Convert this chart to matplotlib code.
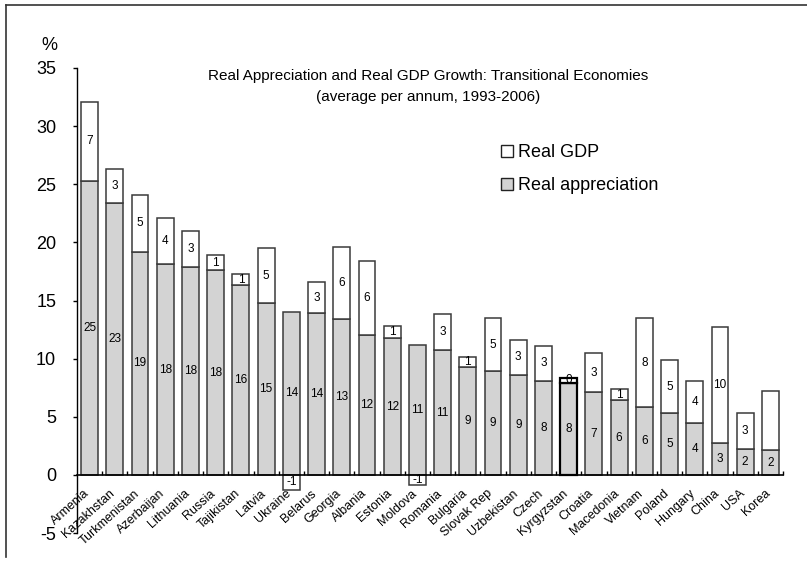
import numpy as np
import matplotlib
matplotlib.use("Agg")
import matplotlib.pyplot as plt
import matplotlib.transforms as mtransforms
from matplotlib.patches import Patch
from matplotlib.lines import Line2D

plt.rcParams['font.family'] = ['Liberation Sans', 'DejaVu Sans']
plt.rcParams['axes.unicode_minus'] = False

countries = ["Armenia", "Kazakhstan", "Turkmenistan", "Azerbaijan", "Lithuania",
             "Russia", "Tajikistan", "Latvia", "Ukraine", "Belarus", "Georgia",
             "Albania", "Estonia", "Moldova", "Romania", "Bulgaria", "Slovak Rep",
             "Uzbekistan", "Czech", "Kyrgyzstan", "Croatia", "Macedonia", "Vietnam",
             "Poland", "Hungary", "China", "USA", "Korea"]

# real appreciation and real GDP growth, % per annum
real_appr = [25.3, 23.4, 19.2, 18.1, 17.9, 17.6, 16.3, 14.8, 14.0, 13.9, 13.4,
             12.0, 11.75, 11.2, 10.7, 9.3, 8.9, 8.6, 8.1, 7.9, 7.1, 6.4, 5.8,
             5.3, 4.45, 2.7, 2.2, 2.1]
real_gdp = [6.8, 2.9, 4.9, 4.0, 3.1, 1.3, 1.0, 4.7, -1.3, 2.7, 6.2,
            6.4, 1.05, -0.9, 3.1, 0.8, 4.6, 3.0, 3.0, 0.45, 3.4, 1.0, 7.7,
            4.6, 3.6, 10.05, 3.1, 5.15]
appr_labels = ["25", "23", "19", "18", "18", "18", "16", "15", "14", "14", "13",
               "12", "12", "11", "11", "9", "9", "9", "8", "8", "7", "6", "6",
               "5", "4", "3", "2", "2"]
gdp_labels = ["7", "3", "5", "4", "3", "1", "1", "5", "-1", "3", "6",
              "6", "1", "-1", "3", "1", "5", "3", "3", "0", "3", "1", "8",
              "5", "4", "10", "3", ""]

W, H = 807, 564
fig = plt.figure(figsize=(W / 100, H / 100), dpi=100)
ax = fig.add_axes([77 / W, 1 - 533 / H, (783 - 77) / W, (533 - 68) / H])

x = np.arange(len(countries))
appr = np.array(real_appr)
gdp = np.array(real_gdp)
gdp_bottom = np.where(gdp >= 0, appr, 0)

edge = ['black' if c == "Kyrgyzstan" else '#3a3a3a' for c in countries]
lw = [1.6 if c == "Kyrgyzstan" else 1.1 for c in countries]

ax.bar(x, appr, width=0.67, color='#d3d3d3', edgecolor=edge, linewidth=lw, zorder=2)
ax.bar(x, gdp, width=0.67, bottom=gdp_bottom, color='white', edgecolor=edge,
       linewidth=lw, zorder=2)

for i in range(len(x)):
    ax.text(x[i], appr[i] / 2, appr_labels[i], ha='center', va='center',
            fontsize=8.5, zorder=3)
    if gdp_labels[i]:
        ax.text(x[i], gdp_bottom[i] + gdp[i] / 2, gdp_labels[i], ha='center',
                va='center', fontsize=8.5, zorder=3)

ax.set_xlim(-0.5, len(x) - 0.5)
ax.set_ylim(-5, 35)
ax.set_yticks(np.arange(-5, 36, 5))
ax.tick_params(axis='y', direction='out', length=3, width=1, labelsize=13, pad=12)

ax.spines['top'].set_visible(False)
ax.spines['right'].set_visible(False)
ax.spines['bottom'].set_position(('data', 0))
ax.spines['left'].set_linewidth(1)
ax.spines['bottom'].set_linewidth(1.2)

ax.set_xticks(x)
ax.set_xticklabels(countries, rotation=42, ha='right', rotation_mode='anchor',
                   fontsize=9)
ax.set_xticks(np.arange(0.5, len(x), 1), minor=True)
ax.tick_params(axis='x', which='major', length=0, pad=9)
ax.tick_params(axis='x', which='minor', direction='in', length=3, width=1)
shift = mtransforms.ScaledTranslation(-6 / 100, 0, fig.dpi_scale_trans)
for lab in ax.get_xticklabels():
    lab.set_transform(lab.get_transform() + shift)

fig.text(49 / W, 1 - 45 / H, "%", ha='center', va='center', fontsize=13)

fig.text(428 / W, 1 - 76 / H,
         "Real Appreciation and Real GDP Growth: Transitional Economies",
         ha='center', va='center', fontsize=11)
fig.text(428 / W, 1 - 97 / H, "(average per annum, 1993-2006)",
         ha='center', va='center', fontsize=11)

handles = [Patch(facecolor='white', edgecolor='#222222', linewidth=1),
           Patch(facecolor='#d3d3d3', edgecolor='#222222', linewidth=1)]
fig.legend(handles, ["Real GDP", "Real appreciation"], loc='upper left',
           bbox_to_anchor=(501 / W, 1 - 144 / H), frameon=False, fontsize=13,
           handlelength=0.65, handleheight=0.65, handletextpad=0.3,
           labelspacing=0.9, borderpad=0, borderaxespad=0)

# frame lines at left and top of the picture
fig.add_artist(Line2D([6 / W, 6 / W], [1 - 557 / H, 1 - 5 / H], color='#333333',
                      linewidth=1.2, transform=fig.transFigure))
fig.add_artist(Line2D([6 / W, 1.0], [1 - 5 / H, 1 - 5 / H], color='#333333',
                      linewidth=1.2, transform=fig.transFigure))

fig.savefig("out.png", dpi=100)
